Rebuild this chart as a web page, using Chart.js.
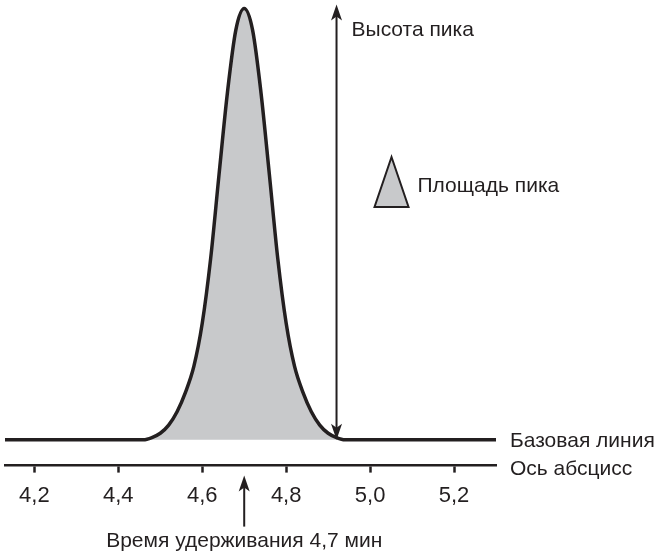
<!DOCTYPE html>
<html>
<head>
<meta charset="utf-8">
<script src="https://cdn.jsdelivr.net/npm/chart.js@4/dist/chart.umd.min.js"></script>
<style>
  html, body { margin: 0; padding: 0; background: #fff; }
  canvas { display: block; }
</style>
</head>
<body>
<canvas id="cvs_pico" width="660" height="554"></canvas>
<script>
// Хроматограмма: время (мин) и сигнал детектора (% от высоты пика)
const tempos = [4.13, 4.46, 4.48, 4.50, 4.52, 4.54, 4.56, 4.58, 4.60, 4.62, 4.64, 4.66, 4.68,
                4.70, 4.72, 4.74, 4.76, 4.78, 4.80, 4.82, 4.84, 4.86, 4.88, 4.90, 4.92, 4.94, 5.30];
const sinal = [0, 0, 0.5, 1.5, 3.4, 6.5, 11, 17, 27, 42, 61.5, 80.5, 95,
               100, 95, 80.5, 61.5, 42, 27, 17, 11, 6.5, 3.4, 1.5, 0.5, 0, 0];

// Деления оси абсцисс
const ticksX = [4.2, 4.4, 4.6, 4.8, 5.0, 5.2];
const ticksRotulos = ["4,2", "4,4", "4,6", "4,8", "5,0", "5,2"];

// Время удерживания и положение стрелки высоты
const tempoRetencao = 4.7;
const alturaPico = 100;
const posSetaAltura = 4.92;

const corTraco = "#231f20";
const corArea = "#c8c9cb";
const fonte = "'Liberation Sans', Arial, sans-serif";

function seta(ctx, x, yBase, yPonta, comp, larg) {
    // desenha a cabeça da seta apontando para yPonta
    const dir = yPonta < yBase ? 1 : -1;
    ctx.beginPath();
    ctx.moveTo(x, yPonta);
    ctx.lineTo(x - larg / 2, yPonta + dir * comp);
    ctx.lineTo(x, yPonta + dir * comp * 0.75);
    ctx.lineTo(x + larg / 2, yPonta + dir * comp);
    ctx.closePath();
    ctx.fill();
}

const anotacoes = {
    id: "anotacoes",
    afterDraw(chart) {
        const { ctx, chartArea, scales: { x, y } } = chart;
        ctx.save();
        ctx.strokeStyle = corTraco;
        ctx.fillStyle = corTraco;
        ctx.lineWidth = 2;

        // стрелка высоты пика
        const xa = x.getPixelForValue(posSetaAltura);
        const yTopo = y.getPixelForValue(alturaPico) - 4;
        const yZero = y.getPixelForValue(0);
        ctx.beginPath();
        ctx.moveTo(xa, yTopo + 8);
        ctx.lineTo(xa, yZero - 8);
        ctx.stroke();
        seta(ctx, xa, yZero, yTopo, 16, 11);
        seta(ctx, xa, yTopo, yZero, 16, 11);

        // стрелка времени удерживания
        const xr = x.getPixelForValue(tempoRetencao);
        const yPonta = chartArea.bottom + 10;
        ctx.beginPath();
        ctx.moveTo(xr, chartArea.bottom + 61);
        ctx.lineTo(xr, yPonta + 8);
        ctx.stroke();
        seta(ctx, xr, chartArea.bottom + 61, yPonta, 16, 11);

        // треугольник «площадь пика»
        const tx = xa + 55;
        ctx.beginPath();
        ctx.moveTo(tx, 157);
        ctx.lineTo(tx - 17, 207);
        ctx.lineTo(tx + 17, 207);
        ctx.closePath();
        ctx.fillStyle = corArea;
        ctx.fill();
        ctx.lineWidth = 2;
        ctx.stroke();

        // подписи
        ctx.fillStyle = corTraco;
        ctx.font = `21px ${fonte}`;
        ctx.textBaseline = "middle";
        ctx.textAlign = "left";
        ctx.fillText("Высота пика", xa + 15, 30);
        ctx.fillText("Площадь пика", tx + 26, 186);
        ctx.fillText("Базовая линия", chartArea.right + 14, yZero + 1);
        ctx.fillText("Ось абсцисс", chartArea.right + 14, chartArea.bottom + 4);
        ctx.textAlign = "center";
        ctx.fillText("Время удерживания 4,7 мин", xr, chartArea.bottom + 76);
        ctx.restore();
    }
};

new Chart(document.getElementById("cvs_pico"), {
    type: "line",
    data: {
        datasets: [{
            data: tempos.map((t, i) => ({ x: t, y: sinal[i] })),
            borderColor: corTraco,
            borderWidth: 3.5,
            backgroundColor: corArea,
            fill: "origin",
            pointRadius: 0,
            cubicInterpolationMode: "monotone",
        }],
    },
    options: {
        responsive: false,
        animation: false,
        layout: { padding: { left: 5, right: 164, top: 0, bottom: 35 } },
        plugins: { legend: { display: false }, tooltip: { enabled: false } },
        scales: {
            x: {
                type: "linear",
                min: 4.13,
                max: 5.30,
                afterBuildTicks(scale) {
                    scale.ticks = ticksX.map(v => ({ value: v }));
                },
                ticks: {
                    color: corTraco,
                    font: { family: fonte, size: 22 },
                    padding: 10,
                    maxRotation: 0,
                    callback: (v) => ticksRotulos[ticksX.indexOf(v)],
                },
                grid: {
                    drawOnChartArea: false,
                    drawTicks: true,
                    tickLength: 7,
                    tickWidth: 2.5,
                    tickColor: corTraco,
                },
                border: { color: corTraco, width: 2.5 },
            },
            y: {
                display: false,
                min: -6,
                max: 102,
            },
        },
    },
    plugins: [anotacoes],
});
</script>
</body>
</html>
